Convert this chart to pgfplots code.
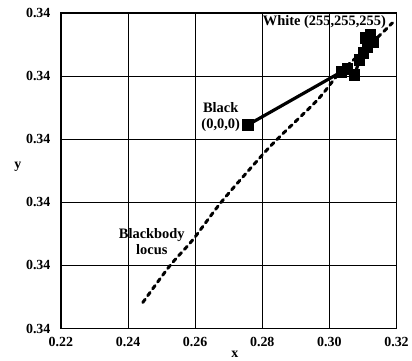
\documentclass[border=0pt]{standalone}
\usepackage{fontspec}
\setmainfont{Liberation Serif}
\usepackage{pgfplots}
\pgfplotsset{compat=1.18}
\begin{document}
\begin{tikzpicture}
\begin{axis}[
  scale only axis,
  width=336bp, height=316bp,
  xmin=0.22, xmax=0.32,
  ymin=0.336, ymax=0.344,
  xtick={0.22,0.24,0.26,0.28,0.30,0.32},
  ytick={0.336,0.3376,0.3392,0.3408,0.3424,0.344},
  /pgf/number format/assume math mode=true,
  ticklabel style={font=\fontsize{14}{16}\selectfont\bfseries},
  xticklabel style={yshift=-5bp,/pgf/number format/.cd,fixed,fixed zerofill,precision=2},
  yticklabel style={xshift=-7bp,/pgf/number format/.cd,fixed,fixed zerofill,precision=2},
  scaled ticks=false,
  major tick length=0pt,
  grid=major,
  major grid style={black, line width=0.8pt},
  axis line style={black, line width=1.3pt},
  xlabel={x}, ylabel={y},
  label style={font=\fontsize{14}{16}\selectfont\bfseries},
  xlabel style={at={(axis description cs:0.518,-0.082)}, anchor=center},
  ylabel style={at={(axis description cs:-0.128,0.513)}, anchor=center, rotate=-90},
  clip=false,
]
% blackbody locus
\addplot[black, line width=3pt, dash pattern=on 4pt off 4.5pt, line cap=round, smooth] coordinates {
(0.2444,0.33666) (0.25244,0.33759) (0.25929,0.33825) (0.26792,0.33922)
(0.28012,0.34041) (0.28518,0.34086) (0.29649,0.34180) (0.30304,0.34248)
(0.31048,0.34306) (0.31881,0.34375)};
% device gray ramp
\addplot[black, line width=3.2pt, mark=square*, mark size=4.3pt, mark options={solid}] coordinates {
(0.27565,0.34116) (0.30363,0.34251) (0.30542,0.34258) (0.30750,0.34243)
(0.30899,0.34281) (0.31018,0.34299) (0.31137,0.34314) (0.31077,0.34337)
(0.31226,0.34344) (0.31315,0.34327)};
\node[anchor=west, font=\fontsize{14.5}{16}\selectfont\bfseries, inner sep=0pt] at (axis cs:0.28012,0.34377) {White (255,255,255)};
\node[align=center, font=\fontsize{14.5}{16}\selectfont\bfseries, inner sep=0pt] at (axis cs:0.26762,0.34137) {Black\\(0,0,0)};
\node[align=center, font=\fontsize{14.5}{16}\selectfont\bfseries, inner sep=0pt] at (axis cs:0.24708,0.33820) {Blackbody\\locus};
\path ([xshift=-61bp,yshift=-32bp]rel axis cs:0,0) rectangle ([xshift=15bp,yshift=13bp]rel axis cs:1,1);
\end{axis}
\end{tikzpicture}
\end{document}
